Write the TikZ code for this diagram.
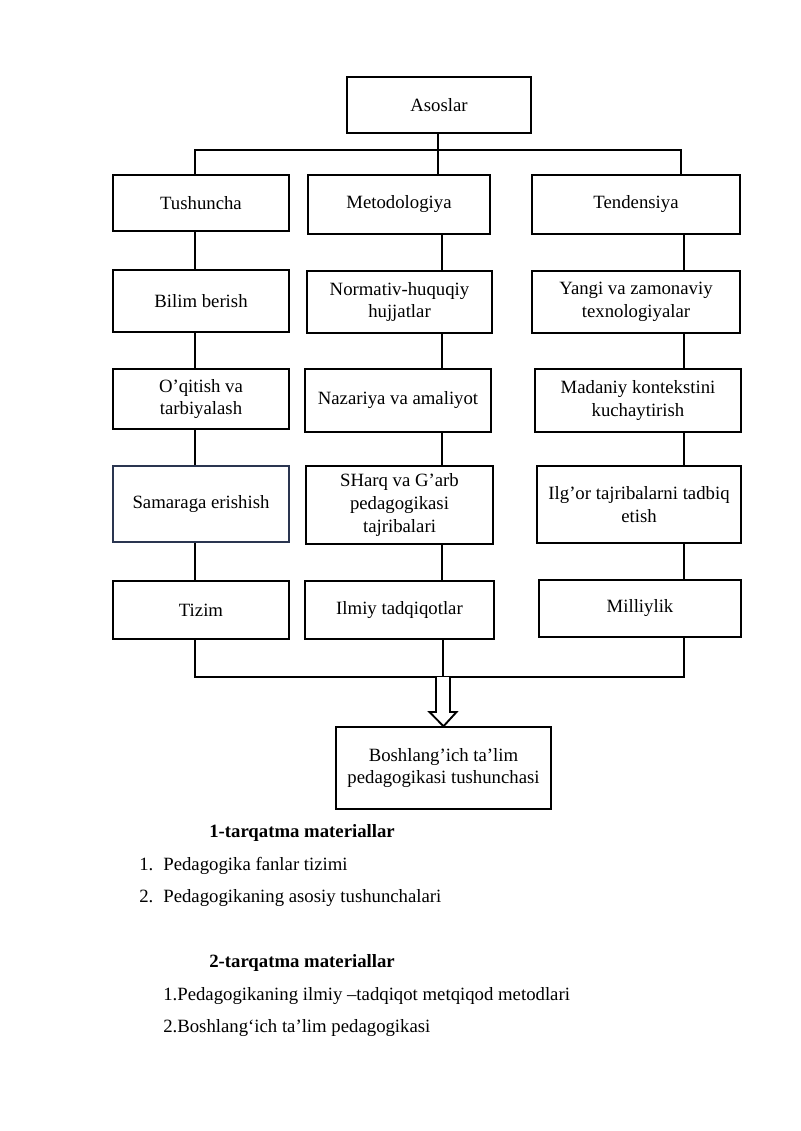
\documentclass[tikz,border=0pt]{standalone}
\usepackage{fontspec}
\setmainfont{Liberation Serif}
\usetikzlibrary{calc}
\definecolor{samarachiziq}{HTML}{2A3550}
\tikzset{
	blok/.style={draw,line width=1.1pt,align=center,inner sep=2pt,font=\fontsize{14}{17}\selectfont},
	wh/.style 2 args={minimum width=#1*0.02625cm,minimum height=#2*0.02625cm},
	chiziq/.style={line width=1.7pt},
	matn/.style={anchor=west,inner sep=0pt,font=\fontsize{14}{16}\selectfont}
}

\begin{document}
\begin{tikzpicture}[x=0.02625cm,y=-0.02625cm]
	\useasboundingbox (0,0) rectangle (800,1131);
	\node[blok,wh={184}{56}] (asos) at (439,105) {Asoslar};
	\node[blok,wh={176}{56}] (tush) at (201,203) {Tushuncha};
	\node[blok,wh={182}{59}] (metod) at (399,204.5) {Metodologiya};
	\node[blok,wh={208}{59}] (tend) at (636,204.5) {Tendensiya};
	\node[blok,wh={176}{62}] (bilim) at (201,301) {Bilim berish};
	\node[blok,wh={185}{62}] (norm) at (399.5,302) {Normativ-huquqiy\\hujjatlar};
	\node[blok,wh={208}{62}] (yangi) at (636,302) {Yangi va zamonaviy\\texnologiyalar};
	\node[blok,wh={176}{60}] (oqit) at (201,399) {O’qitish va\\tarbiyalash};
	\node[blok,wh={186}{63}] (nazar) at (398,400.5) {Nazariya va amaliyot};
	\node[blok,wh={206}{63}] (madan) at (638,400.5) {Madaniy kontekstini\\kuchaytirish};
	\node[blok,wh={176}{76},draw=samarachiziq,line width=0.9pt] (samar) at (201,504) {Samaraga erishish};
	\node[blok,wh={187}{78}] (sharq) at (399.5,505) {SHarq va G’arb\\pedagogikasi\\tajribalari};
	\node[blok,wh={204}{77}] (ilgor) at (639,504.5) {Ilg’or tajribalarni tadbiq\\etish};
	\node[blok,wh={176}{58}] (tizim) at (201,610) {Tizim};
	\node[blok,wh={189}{58}] (ilmiy) at (399.5,610) {Ilmiy tadqiqotlar};
	\node[blok,wh={202}{57}] (mill) at (640,608.5) {Milliylik};
	\node[blok,wh={215}{82}] (yakun) at (443.5,768) {Boshlang’ich ta’lim\\pedagogikasi tushunchasi};
	% chiziqlar uchun nuqtalar
	\coordinate (l) at (195,150);
	\coordinate (t) at (438,150);
	\coordinate (r) at (681,150);
	\coordinate (m) at (442,0);
	\coordinate (o) at (684,0);
	\coordinate (j) at (443,677);
	\draw[chiziq] (asos.south -| t) -- (metod.north -| t);
	\draw[chiziq] (tush.north -| l) |- (r) -- (tend.north -| r);
	\draw[chiziq] (tush.south -| l) -- (bilim.north -| l);
	\draw[chiziq] (bilim.south -| l) -- (oqit.north -| l);
	\draw[chiziq] (oqit.south -| l) -- (samar.north -| l);
	\draw[chiziq] (samar.south -| l) -- (tizim.north -| l);
	\draw[chiziq] (metod.south -| m) -- (norm.north -| m);
	\draw[chiziq] (norm.south -| m) -- (nazar.north -| m);
	\draw[chiziq] (nazar.south -| m) -- (sharq.north -| m);
	\draw[chiziq] (sharq.south -| m) -- (ilmiy.north -| m);
	\draw[chiziq] (tend.south -| o) -- (yangi.north -| o);
	\draw[chiziq] (yangi.south -| o) -- (madan.north -| o);
	\draw[chiziq] (madan.south -| o) -- (ilgor.north -| o);
	\draw[chiziq] (ilgor.south -| o) -- (mill.north -| o);
	\draw[chiziq] (tizim.south -| l) |- (j);
	\draw[chiziq] (mill.south -| o) |- (j);
	\draw[chiziq] (ilmiy.south -| j) -- (j);
	% ichi bo'sh strelka
	\draw[line width=1.4pt,fill=white] ($(j)+(-7,0)$) -- ($(j)+(-7,35)$) -- ($(j)+(-13.5,35)$) -- (yakun.north) -- ($(j)+(13.5,35)$) -- ($(j)+(7,35)$) -- ($(j)+(7,0)$);
	% tarqatma materiallar
	\node[matn,font=\fontsize{14}{16}\selectfont\bfseries] (tq1) at (209,833) {1-tarqatma materiallar};
	\node[matn] (tq1a) at (139,866) {\makebox[18pt][l]{1.}Pedagogika fanlar tizimi};
	\node[matn] (tq1b) at (139,898) {\makebox[18pt][l]{2.}Pedagogikaning asosiy tushunchalari};
	\node[matn,font=\fontsize{14}{16}\selectfont\bfseries] (tq2) at (209,963) {2-tarqatma materiallar};
	\node[matn] (tq2a) at (163,996) {1.Pedagogikaning ilmiy –tadqiqot metqiqod metodlari};
	\node[matn] (tq2b) at (163,1028) {2.Boshlang‘ich ta’lim pedagogikasi};
\end{tikzpicture}
\end{document}
